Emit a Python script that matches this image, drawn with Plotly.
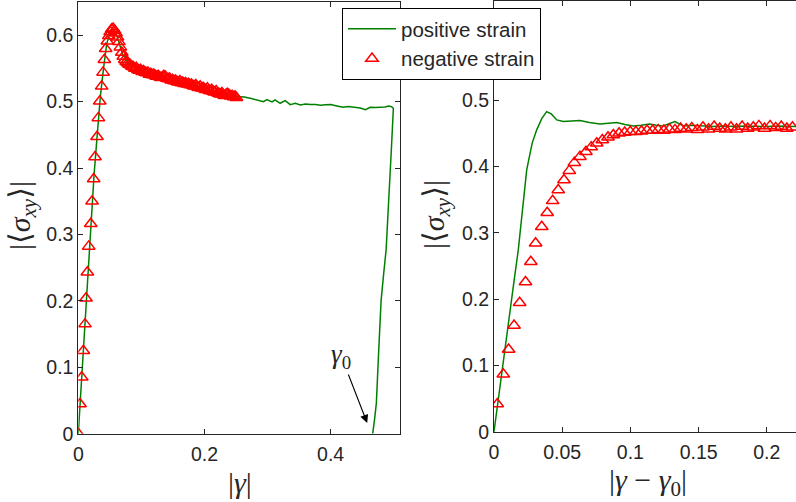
import plotly.graph_objects as go

# ---------------- data ----------------
# Left panel: positive strain (green line), |gamma|
pos_gamma = [0, 0.005, 0.01, 0.015, 0.02, 0.025, 0.03, 0.035, 0.04, 0.045, 0.05, 0.055,
             0.06, 0.065, 0.07, 0.08, 0.09, 0.1, 0.12, 0.14, 0.16, 0.18, 0.2, 0.22, 0.24,
             0.254, 0.263, 0.2725, 0.2832, 0.2937, 0.299, 0.307, 0.312, 0.320, 0.328, 0.336,
             0.344, 0.352, 0.360, 0.368, 0.376, 0.384, 0.392, 0.4, 0.41, 0.42, 0.428, 0.436,
             0.447, 0.455, 0.463, 0.471, 0.479, 0.486, 0.492, 0.4965, 0.4995, 0.4985, 0.4963,
             0.492, 0.488, 0.484, 0.48, 0.4763, 0.4725, 0.4695, 0.4667]
pos_sigma = [0, 0.078, 0.155, 0.25, 0.32, 0.39, 0.45, 0.508, 0.55, 0.587, 0.603, 0.61,
             0.603, 0.588, 0.572, 0.557, 0.55, 0.546, 0.54, 0.535, 0.53, 0.526, 0.52, 0.515, 0.51,
             0.5077, 0.507, 0.505, 0.5025, 0.5, 0.503, 0.4995, 0.5025, 0.4975, 0.5015, 0.4955,
             0.4975, 0.495, 0.4965, 0.4955, 0.4958, 0.4945, 0.4952, 0.4955, 0.4935, 0.4915, 0.4925, 0.4915,
             0.4905, 0.488, 0.4915, 0.491, 0.4915, 0.492, 0.4935, 0.4925, 0.49, 0.46, 0.428,
             0.35, 0.277, 0.24, 0.2, 0.126, 0.046, 0.02, 0.0]

# Left panel: negative strain (red triangles), |gamma|
neg_gamma = [0, 0.0027, 0.0054, 0.008, 0.0106, 0.0122, 0.0143, 0.0165, 0.0197, 0.0218,
             0.0244, 0.0265, 0.0297, 0.0318, 0.034, 0.037, 0.0392, 0.0413, 0.0434, 0.046,
             0.0483, 0.0506, 0.0529, 0.0552, 0.0575, 0.0598, 0.0621, 0.0644, 0.0667, 0.069,
             0.0713, 0.0736, 0.0759, 0.0782, 0.0805, 0.0828, 0.0851, 0.0874, 0.0897, 0.092,
             0.0943, 0.0966, 0.0989, 0.1012, 0.1035, 0.1058, 0.1081, 0.1104, 0.1127, 0.115,
             0.1173, 0.1196, 0.1219, 0.1242, 0.1265, 0.1288, 0.1311, 0.1334, 0.1357, 0.138,
             0.1403, 0.1426, 0.1449, 0.1472, 0.1495, 0.1518, 0.1541, 0.1564, 0.1587, 0.161,
             0.1633, 0.1656, 0.1679, 0.1702, 0.1725, 0.1748, 0.1771, 0.1794, 0.1817, 0.184,
             0.1863, 0.1886, 0.1909, 0.1932, 0.1955, 0.1978, 0.2001, 0.2024, 0.2047, 0.207,
             0.2093, 0.2116, 0.2139, 0.2162, 0.2185, 0.2208, 0.2231, 0.2254, 0.2277, 0.23,
             0.2323, 0.2346, 0.2369, 0.2392, 0.2415, 0.2438, 0.2461, 0.2484, 0.2507]
neg_sigma = [0, 0.0448, 0.085, 0.125, 0.165, 0.204, 0.243, 0.282, 0.316, 0.35,
             0.3835, 0.4167, 0.447, 0.4755, 0.5005, 0.523, 0.544, 0.563, 0.5795, 0.591,
             0.599, 0.605, 0.609, 0.61, 0.607, 0.603, 0.597, 0.59, 0.582, 0.574,
             0.568, 0.563, 0.56, 0.558, 0.556, 0.555, 0.553, 0.552, 0.55, 0.551,
             0.548, 0.547, 0.548, 0.545, 0.546, 0.544, 0.543, 0.544, 0.541, 0.542,
             0.54, 0.541, 0.539, 0.538, 0.539, 0.537, 0.536, 0.537, 0.539, 0.538,
             0.535, 0.534, 0.535, 0.532, 0.533, 0.531, 0.532, 0.53, 0.529, 0.531,
             0.528, 0.529, 0.527, 0.528, 0.526, 0.527, 0.525, 0.526, 0.524, 0.523,
             0.525, 0.522, 0.521, 0.523, 0.52, 0.521, 0.519, 0.518, 0.52, 0.517,
             0.516, 0.518, 0.515, 0.514, 0.516, 0.513, 0.512, 0.511, 0.513, 0.51,
             0.509, 0.511, 0.512, 0.51, 0.508, 0.509, 0.507, 0.508, 0.506]

# Right panel: positive strain (green line), |gamma - gamma0|
pos_dgamma = [0, 0.005, 0.01, 0.015, 0.0178, 0.021, 0.024, 0.028, 0.0313, 0.035, 0.0386,
              0.042, 0.046, 0.0508, 0.056, 0.063, 0.07, 0.0777, 0.084, 0.09, 0.096, 0.102,
              0.108, 0.114, 0.119, 0.124, 0.1326, 0.139, 0.145, 0.152, 0.16, 0.168, 0.176,
              0.184, 0.192, 0.2, 0.208, 0.216, 0.222]
pos_dsigma = [0, 0.08, 0.155, 0.232, 0.274, 0.335, 0.395, 0.435, 0.455, 0.472, 0.4825,
              0.479, 0.47, 0.4675, 0.468, 0.469, 0.466, 0.464, 0.465, 0.466, 0.463, 0.461,
              0.462, 0.464, 0.462, 0.461, 0.4675, 0.461, 0.462, 0.461, 0.46, 0.461, 0.46,
              0.461, 0.46, 0.46, 0.461, 0.46, 0.46]

# Right panel: negative strain (red triangles), |gamma - gamma0|
neg_dgamma = [0.0024, 0.0068, 0.0107, 0.0147, 0.0188, 0.0231, 0.027, 0.0305, 0.035, 0.039,
              0.043, 0.0471, 0.0513, 0.0552, 0.0589, 0.063, 0.0674, 0.0713, 0.0753, 0.0794,
              0.0836, 0.0875, 0.0917, 0.0958, 0.0999, 0.104, 0.1081, 0.1122, 0.1163, 0.1204,
              0.1245, 0.1286, 0.1327, 0.1368, 0.1409, 0.145, 0.1491, 0.1532, 0.1573, 0.1614,
              0.1655, 0.1696, 0.1737, 0.1778, 0.1819, 0.186, 0.1901, 0.1942, 0.1983, 0.2024,
              0.2065, 0.2106, 0.2147, 0.2188]
neg_dsigma = [0.0418, 0.0865, 0.124, 0.16, 0.1945, 0.2257, 0.2563, 0.284, 0.309, 0.33,
              0.348, 0.3644, 0.3795, 0.3935, 0.4056, 0.4146, 0.422, 0.429, 0.4348, 0.4398,
              0.4438, 0.4473, 0.4499, 0.451, 0.452, 0.452, 0.453, 0.454, 0.454, 0.455,
              0.454, 0.456, 0.455, 0.457, 0.456, 0.458, 0.455, 0.459, 0.456, 0.46,
              0.457, 0.456, 0.459, 0.456, 0.46, 0.457, 0.459, 0.461, 0.457, 0.461,
              0.458, 0.46, 0.457, 0.459]

left_xticks = [0, 0.2, 0.4]
left_xlabels = ["0", "0.2", "0.4"]
right_xticks = [0, 0.05, 0.1, 0.15, 0.2]
right_xlabels = ["0", "0.05", "0.1", "0.15", "0.2"]
left_yticks = [0, 0.1, 0.2, 0.3, 0.4, 0.5, 0.6]
left_ylabels = ["0", "0.1", "0.2", "0.3", "0.4", "0.5", "0.6"]
right_yticks = [0, 0.1, 0.2, 0.3, 0.4, 0.5]
right_ylabels = ["0", "0.1", "0.2", "0.3", "0.4", "0.5"]

GREEN = "rgb(0,128,0)"
RED = "rgb(255,0,0)"
INK = "#262626"
SANS = "Liberation Sans, Arial, sans-serif"
SERIF = "Liberation Serif, DejaVu Serif, serif"

marker_style = dict(symbol="triangle-up-open", size=11, color=RED, line=dict(color=RED, width=1.5))

fig = go.Figure()
fig.add_trace(go.Scatter(x=pos_gamma, y=pos_sigma, mode="lines", name="positive strain",
                         line=dict(color=GREEN, width=1.5), xaxis="x", yaxis="y"))
fig.add_trace(go.Scatter(x=neg_gamma, y=neg_sigma, mode="markers", name="negative strain",
                         marker=marker_style, xaxis="x", yaxis="y"))
fig.add_trace(go.Scatter(x=pos_dgamma, y=pos_dsigma, mode="lines", showlegend=False,
                         line=dict(color=GREEN, width=1.5), xaxis="x2", yaxis="y2"))
fig.add_trace(go.Scatter(x=neg_dgamma, y=neg_dsigma, mode="markers", showlegend=False,
                         marker=marker_style, xaxis="x2", yaxis="y2"))

W, H = 796, 502
axis_common = dict(showline=True, linecolor=INK, linewidth=1, ticks="inside", ticklen=5,
                   tickcolor=INK, tickwidth=1, showgrid=False, zeroline=False,
                   tickfont=dict(family=SANS, size=19.5, color=INK), automargin=False)

fig.update_layout(
    width=W, height=H, margin=dict(l=0, r=0, t=0, b=0),
    paper_bgcolor="white", plot_bgcolor="white",
    xaxis=dict(domain=[78.3 / W, 400 / W], range=[0, 0.51], tickvals=left_xticks,
               ticktext=left_xlabels, mirror="ticks", anchor="y", ticklabelstandoff=3,
               **axis_common),
    yaxis=dict(domain=[68.3 / H, 500 / H], range=[0, 0.65], tickvals=left_yticks,
               ticktext=left_ylabels, mirror="ticks", anchor="x", **axis_common),
    xaxis2=dict(domain=[494 / W, 1.0], range=[0, 0.2214], tickvals=right_xticks,
                ticktext=right_xlabels, mirror="ticks", anchor="y2", ticklabelstandoff=3,
                **axis_common),
    yaxis2=dict(domain=[70.3 / H, 501.5 / H], range=[0, 0.65], tickvals=right_yticks,
                ticktext=right_ylabels, mirror=False, anchor="x2", **axis_common),
    legend=dict(x=342 / W, y=1 - 8 / H, xanchor="left", yanchor="top",
                bgcolor="white", bordercolor="black", borderwidth=1,
                font=dict(family=SANS, size=20.5, color=INK), itemwidth=48,
                tracegroupgap=0),
    showlegend=True,
)

title_font = dict(family=SERIF, size=30, color=INK)
fig.add_annotation(text="|<i>γ</i>|", xref="paper", yref="paper", x=240 / W, y=(H - 482) / H,
                   showarrow=False, font=title_font, xanchor="center", yanchor="middle")
fig.add_annotation(text="|<i>γ</i> − <i>γ</i><sub>0</sub>|", xref="paper", yref="paper",
                   x=648 / W, y=(H - 482) / H, showarrow=False, font=title_font,
                   xanchor="center", yanchor="middle")
ylab = "|⟨<i>σ</i><sub><i>xy</i></sub>⟩|"
fig.add_annotation(text=ylab, xref="paper", yref="paper", x=22 / W, y=(H - 216) / H,
                   textangle=-90, showarrow=False, font=title_font,
                   xanchor="center", yanchor="middle")
fig.add_annotation(text=ylab, xref="paper", yref="paper", x=436 / W, y=(H - 215) / H,
                   textangle=-90, showarrow=False, font=title_font,
                   xanchor="center", yanchor="middle")

# gamma_0 arrow
fig.add_annotation(text="<i>γ</i><sub>0</sub>", xref="x", yref="y", x=0.458, y=0.016,
                   ax=-26, ay=-67, showarrow=True, arrowhead=2, arrowsize=1.5,
                   arrowwidth=1.1, arrowcolor="black",
                   font=dict(family=SERIF, size=27, color=INK))

fig.write_html("out.html", config={"displayModeBar": False},
               post_script="document.body.style.margin='0px';")
